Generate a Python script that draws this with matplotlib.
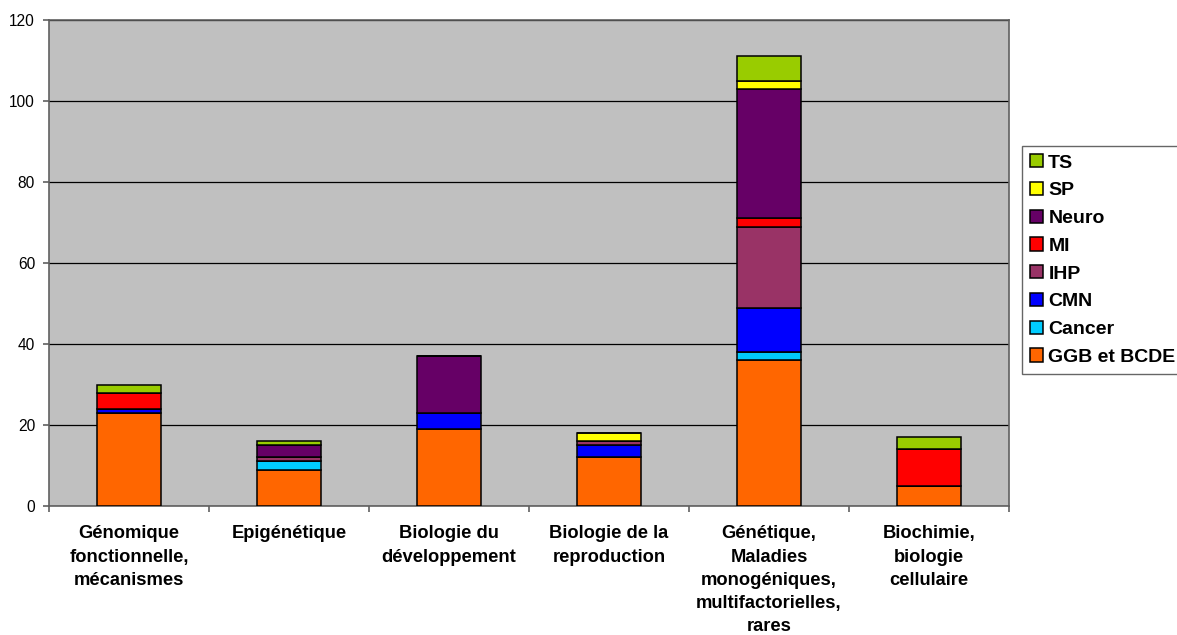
import matplotlib.pyplot as plt
import numpy as np

plt.rcParams['font.family'] = ['Liberation Sans', 'DejaVu Sans']

categories = ['Génomique\nfonctionnelle,\nmécanismes', 'Epigénétique', 'Biologie du\ndéveloppement',
              'Biologie de la\nreproduction', 'Génétique,\nMaladies\nmonogéniques,\nmultifactorielles,\nrares',
              'Biochimie,\nbiologie\ncellulaire']
series = ['GGB et BCDE', 'Cancer', 'CMN', 'IHP', 'MI', 'Neuro', 'SP', 'TS']
colors = ['#FF6600', '#00CCFF', '#0000FF', '#993366', '#FF0000', '#660066', '#FFFF00', '#99CC00']

ggb = [23, 9, 19, 12, 36, 5]
cancer = [0, 2, 0, 0, 2, 0]
cmn = [1, 0, 4, 3, 11, 0]
ihp = [0, 1, 0, 1, 20, 0]
mi = [4, 0, 0, 0, 2, 9]
neuro = [0, 3, 14, 0, 32, 0]
sp = [0, 0, 0, 2, 2, 0]
ts = [2, 1, 0, 0, 6, 3]

values = [ggb, cancer, cmn, ihp, mi, neuro, sp, ts]

W, H = 1177, 635
fig = plt.figure(figsize=(W / 100, H / 100), dpi=100)
ax = fig.add_axes([49 / W, (H - 506) / H, 960 / W, 486 / H])
ax.set_facecolor('#C0C0C0')

x = np.arange(len(categories))
bottom = np.zeros(len(categories))
handles = []
for name, vals, c in zip(series, values, colors):
    vals = np.array(vals)
    b = ax.bar(x, vals, 0.4, bottom=bottom, color=c, edgecolor='black', linewidth=1.1, label=name, zorder=3)
    handles.append(b)
    bottom += vals

ax.set_xlim(-0.5, len(categories) - 0.5)
ax.set_ylim(0, 120)
ax.set_yticks(range(0, 121, 20))
ax.yaxis.grid(True, color='black', linewidth=0.9, zorder=1)
ax.set_xticks(np.arange(-0.5, len(categories), 1))
ax.set_xticklabels([])
ax.set_xticks(x, minor=True)
ax.set_xticklabels(categories, minor=True, fontsize=13.2, fontweight='bold', linespacing=1.47, va='top')
ax.tick_params(axis='x', which='minor', length=0, pad=14)
ax.tick_params(axis='x', which='major', length=4, width=1.2, color='#606060')
ax.tick_params(axis='y', labelsize=11.2, length=4, width=1.2, color='#606060', pad=6)
for s in ax.spines.values():
    s.set_color('#606060')
    s.set_linewidth(1.2)

leg = fig.legend(handles[::-1], series[::-1], loc='upper left', bbox_to_anchor=(1022 / W, 1 - 146 / H),
                 prop={'weight': 'bold', 'size': 14}, frameon=True, fancybox=False, edgecolor='#404040',
                 handlelength=0.67, handleheight=0.67, handletextpad=0.26, labelspacing=0.53, borderpad=0.42,
                 borderaxespad=0)
leg.get_frame().set_linewidth(1.0)

fig.savefig('out.png', dpi=100)
